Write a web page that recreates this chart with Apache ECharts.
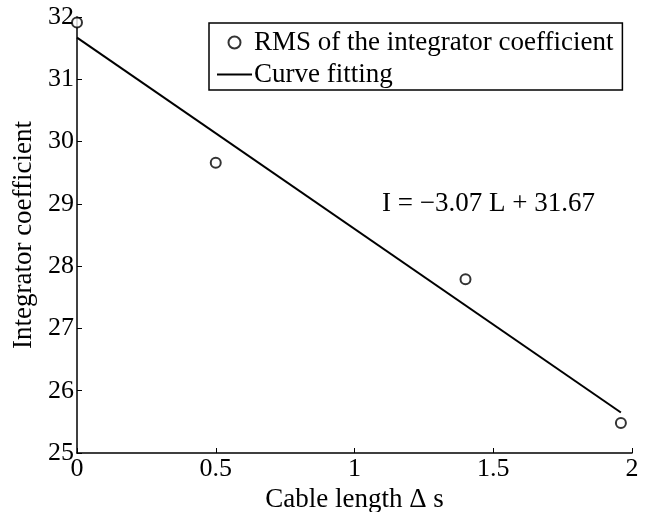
<!DOCTYPE html>
<html>
<head>
<meta charset="utf-8">
<script src="https://cdn.jsdelivr.net/npm/echarts@6/dist/echarts.min.js"></script>
<style>
  html, body { margin: 0; padding: 0; background: #fff; }
  #main { width: 651px; height: 512px; }
</style>
</head>
<body>
<div id="main"></div>
<script>
// measured points
const cableLength = [0, 0.5, 1.4, 1.96];
const integratorCoef = [31.91, 29.66, 27.79, 25.48];
// fitted line end points
const fitX = [0, 1.96];
const fitY = [31.67, 25.65];
const xTicks = ['0', '0.5', '1', '1.5', '2'];
const yTicks = ['25', '26', '27', '28', '29', '30', '31', '32'];

const font = 'Liberation Serif';
const chart = echarts.init(document.getElementById('main'));

let option = {
  backgroundColor: '#fff',
  animation: false,
  textStyle: { fontFamily: font, color: '#000' },
  grid: { left: 77, right: 19, top: 17, bottom: 59, outerBoundsMode: 'none', containLabel: false },
  xAxis: {
    type: 'value',
    min: 0,
    max: 2,
    interval: 0.5,
    name: 'Cable length \u0394 s',
    nameLocation: 'middle',
    nameGap: 30,
    nameTextStyle: { fontFamily: font, fontSize: 27, color: '#000' },
    axisLine: { onZero: false, lineStyle: { color: '#000', width: 1.5 } },
    axisTick: { inside: true, length: 5, lineStyle: { color: '#000' } },
    axisLabel: {
      fontFamily: font, fontSize: 26, color: '#000', margin: 3,
      formatter: (v) => xTicks[Math.round(v / 0.5)]
    },
    splitLine: { show: false }
  },
  yAxis: {
    type: 'value',
    min: 25,
    max: 32,
    interval: 1,
    name: 'Integrator coefficient',
    nameLocation: 'middle',
    nameGap: 39,
    nameTextStyle: { fontFamily: font, fontSize: 27, color: '#000' },
    axisLine: { onZero: false, lineStyle: { color: '#000', width: 1.5 } },
    axisTick: { inside: true, length: 5, lineStyle: { color: '#000' } },
    axisLabel: {
      fontFamily: font, fontSize: 26, color: '#000', margin: 3,
      formatter: (v) => yTicks[Math.round(v - 25)]
    },
    splitLine: { show: false }
  },
  legend: {
    orient: 'vertical',
    left: 209,
    top: 23,
    padding: [6, 9, 2, 8],
    itemGap: 5,
    itemWidth: 35,
    itemHeight: 12,
    borderColor: '#000',
    borderWidth: 1.5,
    backgroundColor: '#fff',
    textStyle: { fontFamily: font, fontSize: 27, color: '#000', padding: [0, 0, 0, -3] },
    data: [
      { name: 'RMS of the integrator coefficient', icon: 'circle',
        itemStyle: { color: '#fff', borderColor: '#000', borderWidth: 2 } },
      { name: 'Curve fitting', icon: 'path://M0,0H35V2H0Z',
        itemStyle: { color: '#000', borderWidth: 0 } }
    ]
  },
  series: [
    {
      name: 'RMS of the integrator coefficient',
      type: 'scatter',
      symbol: 'circle',
      symbolSize: 10,
      itemStyle: { color: '#fff', borderColor: '#000', borderWidth: 2 },
      data: cableLength.map((x, i) => [x, integratorCoef[i]]),
      z: 3
    },
    {
      name: 'Curve fitting',
      type: 'line',
      symbol: 'none',
      lineStyle: { color: '#000', width: 2 },
      itemStyle: { color: '#000' },
      data: fitX.map((x, i) => [x, fitY[i]]),
      z: 2
    }
  ],
  graphic: [
    {
      type: 'text',
      left: 382,
      top: 190,
      style: { text: 'I = \u22123.07 L + 31.67', font: '27px "Liberation Serif"', fill: '#000' }
    }
  ]
};

chart.setOption(option);
</script>
</body>
</html>
